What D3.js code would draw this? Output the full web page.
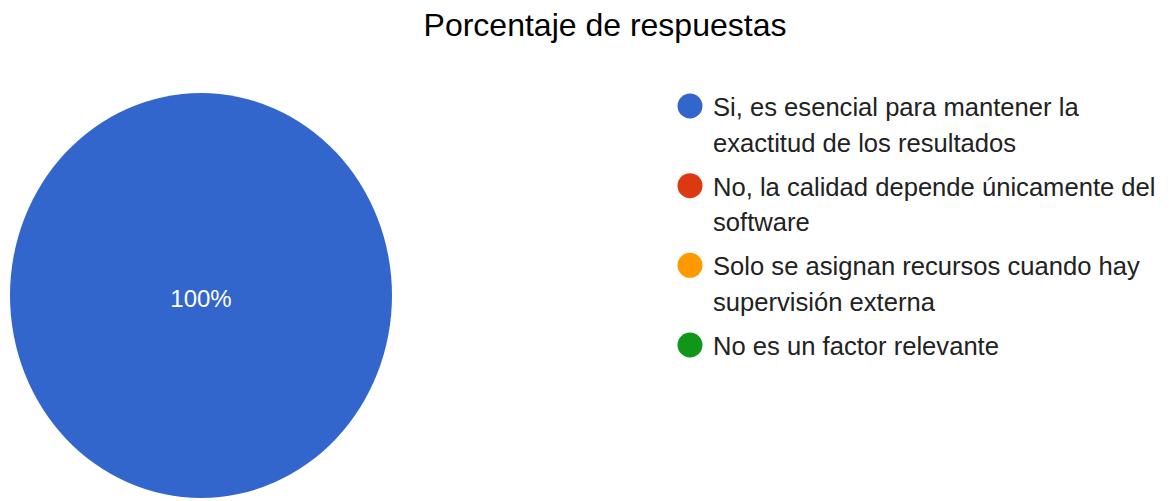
<!DOCTYPE html>
<html>
<head>
<meta charset="utf-8">
<script src="https://cdn.jsdelivr.net/npm/d3@7"></script>
<style>
  html, body { margin: 0; padding: 0; background: #fff; }
  svg { display: block; }
  text { font-family: "Liberation Sans", Arial, sans-serif; }
</style>
</head>
<body>
<svg id="chart" width="1170" height="501"></svg>
<script>
const title = "Porcentaje de respuestas";
const categories = [
  "Si, es esencial para mantener la exactitud de los resultados",
  "No, la calidad depende únicamente del software",
  "Solo se asignan recursos cuando hay supervisión externa",
  "No es un factor relevante"
];
const legendLines = [
  ["Si, es esencial para mantener la", "exactitud de los resultados"],
  ["No, la calidad depende únicamente del", "software"],
  ["Solo se asignan recursos cuando hay", "supervisión externa"],
  ["No es un factor relevante"]
];
const values = [100, 0, 0, 0];
const colors = ["#3366cc", "#dc3912", "#ff9900", "#109618"];

const svg = d3.select("#chart");

svg.append("text")
  .attr("x", 605).attr("y", 36)
  .attr("text-anchor", "middle")
  .attr("font-size", 32)
  .attr("fill", "#000")
  .text(title);

const cx = 201, cy = 295.5, rx = 191, ry = 202.5;
const color = d3.scaleOrdinal().domain(categories).range(colors);
const pie = d3.pie().sort(null).value(d => d.value);
const data = categories.map((c, i) => ({ cat: c, value: values[i] }));
const arcs = pie(data);
const arc = d3.arc().innerRadius(0).outerRadius(rx);

const g = svg.append("g")
  .attr("transform", `translate(${cx},${cy}) scale(1,${ry / rx})`);
g.selectAll("path")
  .data(arcs.filter(a => a.value > 0))
  .join("path")
  .attr("d", arc)
  .attr("fill", d => color(d.data.cat));

const total = d3.sum(values);
svg.selectAll("text.slice")
  .data(arcs.filter(a => a.value > 0))
  .join("text")
  .attr("class", "slice")
  .attr("x", d => {
    if (d.endAngle - d.startAngle >= 2 * Math.PI - 1e-6) return cx;
    return cx + d3.arc().innerRadius(0).outerRadius(rx * 1.2).centroid(d)[0];
  })
  .attr("y", d => {
    if (d.endAngle - d.startAngle >= 2 * Math.PI - 1e-6) return cy + 11.5;
    return cy + d3.arc().innerRadius(0).outerRadius(ry * 1.2).centroid(d)[1];
  })
  .attr("text-anchor", "middle")
  .attr("font-size", 24)
  .attr("fill", "#fff")
  .text(d => Math.round(d.value / total * 100) + "%");

const legendY = d3.scaleLinear().domain([0, 3]).range([116, 355]);
const leg = svg.append("g");
const items = leg.selectAll("g.item")
  .data(categories)
  .join("g")
  .attr("class", "item")
  .attr("transform", (d, i) => `translate(0,${legendY(i)})`);
items.append("circle")
  .attr("cx", 690).attr("cy", -10).attr("r", 12.5)
  .attr("fill", d => color(d));
items.append("text")
  .attr("x", 713).attr("y", 0)
  .attr("font-size", 25.6)
  .attr("fill", "#222")
  .selectAll("tspan")
  .data((d, i) => legendLines[i])
  .join("tspan")
  .attr("x", 713)
  .attr("dy", (d, j) => j === 0 ? 0 : 35.5)
  .text(d => d);
</script>
</body>
</html>
